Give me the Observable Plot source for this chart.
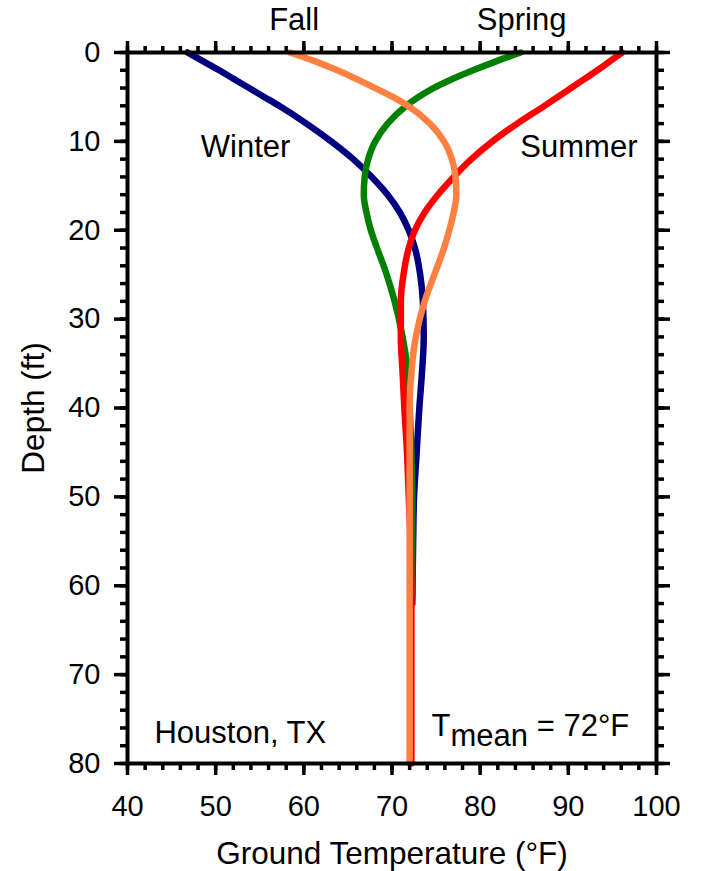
<!DOCTYPE html>
<html>
<head>
<meta charset="utf-8">
<script src="https://cdn.jsdelivr.net/npm/d3@7"></script>
<script src="https://cdn.jsdelivr.net/npm/@observablehq/plot@0.6"></script>
<style>
  html, body { margin: 0; padding: 0; background: white; }
</style>
</head>
<body>
<div id="chart"></div>
<script>
// ---- Data ----
const winterDepth = [0, 1, 2, 3, 4, 5, 6, 8, 10, 12, 14, 16, 18, 20, 22, 25, 28, 32, 36, 40, 45, 50, 55, 62];
const winterTemp  = [46.8, 48.6, 50.4, 52.1, 53.8, 55.5, 57.2, 60.3, 63.1, 65.6, 67.7, 69.5, 70.9, 71.9, 72.6, 73.2, 73.5, 73.6, 73.4, 73.1, 72.8, 72.5, 72.4, 72.3];

const springDepth = [0, 1, 2, 3, 4, 5, 6, 8, 10, 12, 14, 16, 18, 20, 22, 25, 28, 32, 36, 40, 45, 50, 55, 61];
const springTemp  = [84.6, 81.8, 79.2, 76.8, 74.7, 73.0, 71.6, 69.5, 68.1, 67.3, 66.9, 66.8, 67.1, 67.6, 68.3, 69.4, 70.3, 71.2, 71.8, 72.0, 72.2, 72.3, 72.3, 72.3];

const summerDepth = [0, 1, 2, 3, 4, 5, 6, 8, 10, 12, 14, 16, 18, 20, 22, 25, 28, 32, 36, 40, 45, 50, 55, 60, 70, 80];
const summerTemp  = [96.1, 94.7, 93.3, 91.8, 90.3, 88.8, 87.3, 84.2, 81.4, 79.0, 77.0, 75.2, 73.7, 72.6, 71.9, 71.3, 71.0, 71.0, 71.2, 71.4, 71.7, 71.9, 72.1, 72.2, 72.2, 72.2];

const fallDepth = [0, 1, 2, 3, 4, 5, 6, 8, 10, 12, 14, 16, 18, 20, 22, 25, 28, 32, 36, 40, 45, 50, 60, 70, 80];
const fallTemp  = [58.4, 61.3, 63.8, 66.0, 68.1, 70.1, 71.8, 74.3, 75.9, 76.8, 77.2, 77.3, 77.0, 76.5, 75.9, 74.8, 73.7, 72.7, 72.2, 72.0, 72.0, 72.0, 72.0, 72.0, 72.0];

const seasons = [
  {name: "Winter", depth: winterDepth, temp: winterTemp, color: "#000080"},
  {name: "Spring", depth: springDepth, temp: springTemp, color: "#008000"},
  {name: "Summer", depth: summerDepth, temp: summerTemp, color: "#ff0000"},
  {name: "Fall",   depth: fallDepth,   temp: fallTemp,   color: "#ff8040"}
];

const xMajor = [40, 50, 60, 70, 80, 90, 100];
const xMinor = d3.range(40, 101, 2);
const yMajor = [0, 10, 20, 30, 40, 50, 60, 70, 80];
const yMinor = d3.range(0, 81, 2);

const annoText  = ["Fall", "Spring", "Winter", "Summer", "Houston, TX", "Tmean = 72°F"];
const annoTemp  = [58.9, 84.7, 53.4, 91.2, 52.8, 85.7];
const annoDepth = [-3.7, -3.7, 10.6, 10.6, 76.6, 75.8];

const xLabel = "Ground Temperature (°F)";
const yLabel = "Depth (ft)";

// ---- Build tables ----
const lineMarks = seasons.map(s =>
  Plot.line(s.depth.map((d, i) => ({depth: d, temp: s.temp[i]})), {
    x: "temp", y: "depth", stroke: s.color, strokeWidth: 6.5, curve: "monotone-y"
  })
);

const FONT = "'Liberation Sans', Arial, Helvetica, sans-serif";

const plot = Plot.plot({
  width: 702,
  height: 871,
  marginLeft: 127,
  marginRight: 46,
  marginTop: 52,
  marginBottom: 108,
  style: {fontFamily: FONT, fontSize: "30px", color: "black", background: "white", overflow: "visible"},
  x: {domain: [40, 100]},
  y: {domain: [0, 80], reverse: true},
  marks: [
    ...lineMarks,
    Plot.frame({stroke: "black", strokeWidth: 4}),
    // bottom axis
    Plot.axisX({anchor: "bottom", ticks: xMinor, tickSize: 7, stroke: "black", strokeWidth: 3.5, fill: "none", tickFormat: () => "", label: null}),
    Plot.axisX({anchor: "bottom", ticks: xMajor, tickSize: 12, tickPadding: 20, stroke: "black", fill: "black", strokeWidth: 3.5, fontSize: 29, label: null}),
    // top axis
    Plot.axisX({anchor: "top", ticks: xMinor, tickSize: 7, stroke: "black", strokeWidth: 3.5, fill: "none", tickFormat: () => "", label: null}),
    Plot.axisX({anchor: "top", ticks: xMajor, tickSize: 12, stroke: "black", strokeWidth: 3.5, fill: "none", tickFormat: () => "", label: null}),
    // left axis
    Plot.axisY({anchor: "left", ticks: yMinor, tickSize: 7, stroke: "black", strokeWidth: 3.5, fill: "none", tickFormat: () => "", label: null}),
    Plot.axisY({anchor: "left", ticks: yMajor, tickSize: 13, tickPadding: 14, stroke: "black", fill: "black", strokeWidth: 3.5, fontSize: 29, label: null}),
    // right axis
    Plot.axisY({anchor: "right", ticks: yMinor, tickSize: 7, stroke: "black", strokeWidth: 3.5, fill: "none", tickFormat: () => "", label: null}),
    Plot.axisY({anchor: "right", ticks: yMajor, tickSize: 13, stroke: "black", strokeWidth: 3.5, fill: "none", tickFormat: () => "", label: null}),
    // annotations
    Plot.text(d3.range(annoText.length), {
      x: i => annoTemp[i], y: i => annoDepth[i], text: i => annoText[i],
      fontSize: 31, fill: "black", textAnchor: "middle", lineAnchor: "middle"
    }),
    // axis titles
    Plot.text([xLabel], {frameAnchor: "bottom", dy: 90, text: d => d, fontSize: 31.5, fill: "black", textAnchor: "middle", lineAnchor: "middle"}),
    Plot.text([yLabel], {frameAnchor: "left", dx: -94, rotate: -90, text: d => d, fontSize: 31.5, fill: "black", textAnchor: "middle", lineAnchor: "middle"})
  ]
});

// subscript for T_mean
d3.select(plot).selectAll("text").filter(function() { return this.textContent === "Tmean = 72°F"; })
  .each(function() {
    const t = d3.select(this);
    t.text("");
    t.append("tspan").text("T");
    t.append("tspan").attr("dy", "10").text("mean");
    t.append("tspan").attr("dy", "-10").text(" = 72°F");
  });

document.getElementById("chart").appendChild(plot);
</script>
</body>
</html>
